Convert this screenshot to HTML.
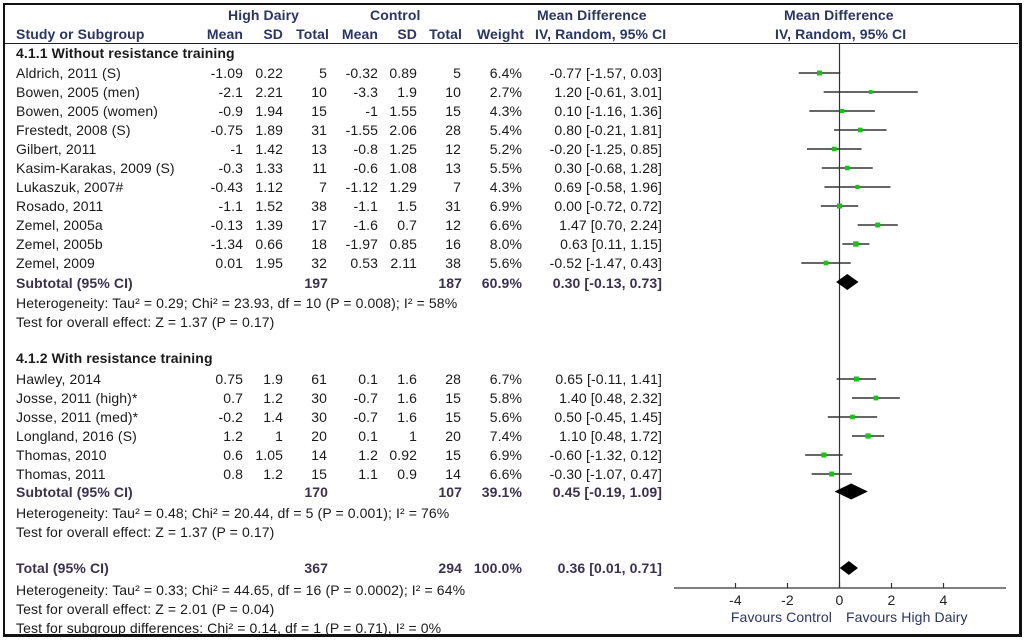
<!DOCTYPE html>
<html><head><meta charset="utf-8">
<style>
html,body{margin:0;padding:0;background:#fff}
#wrap{position:relative;width:1024px;height:640px;overflow:hidden;font-family:"Liberation Sans",Arial,sans-serif;font-size:14px;letter-spacing:0.1px;color:#1a1a1a}
#frame{position:absolute;left:3px;top:3px;width:1014px;height:629px;border:2px solid #111;border-right-width:3px;border-bottom-width:3px}
.t{position:absolute;white-space:nowrap;line-height:16px}
.r{text-align:right}
.h{font-weight:bold;color:#2a3466}
.b{font-weight:bold}
.s{font-weight:bold;color:#3a3050}
svg{position:absolute;left:0;top:0}
</style></head>
<body>
<div id="wrap">
<div id="frame"></div>
<svg id="plot" width="1024" height="640"></svg>
</div>
<script>
// study data
const groupA = ["Aldrich, 2011 (S)","Bowen, 2005 (men)","Bowen, 2005 (women)","Frestedt, 2008 (S)","Gilbert, 2011","Kasim-Karakas, 2009 (S)","Lukaszuk, 2007#","Rosado, 2011","Zemel, 2005a","Zemel, 2005b","Zemel, 2009"];
const groupB = ["Hawley, 2014","Josse, 2011 (high)*","Josse, 2011 (med)*","Longland, 2016 (S)","Thomas, 2010","Thomas, 2011"];
const hdMean = ["-1.09","-2.1","-0.9","-0.75","-1","-0.3","-0.43","-1.1","-0.13","-1.34","0.01","0.75","0.7","-0.2","1.2","0.6","0.8"];
const hdSD = ["0.22","2.21","1.94","1.89","1.42","1.33","1.12","1.52","1.39","0.66","1.95","1.9","1.2","1.4","1","1.05","1.2"];
const hdN = [5,10,15,31,13,11,7,38,17,18,32,61,30,30,20,14,15];
const cMean = ["-0.32","-3.3","-1","-1.55","-0.8","-0.6","-1.12","-1.1","-1.6","-1.97","0.53","0.1","-0.7","-0.7","0.1","1.2","1.1"];
const cSD = ["0.89","1.9","1.55","2.06","1.25","1.08","1.29","1.5","0.7","0.85","2.11","1.6","1.6","1.6","1","0.92","0.9"];
const cN = [5,10,15,28,12,13,7,31,12,16,38,28,15,15,20,15,14];
const weight = [6.4,2.7,4.3,5.4,5.2,5.5,4.3,6.9,6.6,8.0,5.6,6.7,5.8,5.6,7.4,6.9,6.6];
const md = [-0.77,1.20,0.10,0.80,-0.20,0.30,0.69,0.00,1.47,0.63,-0.52,0.65,1.40,0.50,1.10,-0.60,-0.30];
const lo = [-1.57,-0.61,-1.16,-0.21,-1.25,-0.68,-0.58,-0.72,0.70,0.11,-1.47,-0.11,0.48,-0.45,0.48,-1.32,-1.07];
const hi = [0.03,3.01,1.36,1.81,0.85,1.28,1.96,0.72,2.24,1.15,0.43,1.41,2.32,1.45,1.72,0.12,0.47];
const pooledMD = [0.30,0.45,0.36];
const pooledLo = [-0.13,-0.19,0.01];
const pooledHi = [0.73,1.09,0.71];
const ticks = [-4,-2,0,2,4];

const wrap=document.getElementById('wrap');
const svg=document.getElementById('plot');
const NS='http://www.w3.org/2000/svg';
const X0=839.5, SC=26;
function xs(v){return X0+v*SC;}
function txt(x,y,s,cls,right,name){
  const d=document.createElement('div');
  d.className='t '+(cls||'')+(right?' r':'');
  d.textContent=s;
  if(right){d.style.right=(1024-x)+'px';}else{d.style.left=x+'px';}
  d.style.top=(y-8)+'px';
  
  
  wrap.appendChild(d);
}
function el(tag,attrs,name){
  const e=document.createElementNS(NS,tag);
  for(const k in attrs)e.setAttribute(k,attrs[k]);
  
  
  svg.appendChild(e);return e;
}
// headers
txt(228,15,'High Dairy','h',false,'high-dairy-header');
txt(370,15,'Control','h',false,'control-header');
txt(537,15,'Mean Difference','h',false,'md-header');
txt(784,15,'Mean Difference','h',false,'plot-header');
txt(16,34,'Study or Subgroup','h',false,'study-header');
[[243,'Mean'],[283,'SD'],[329,'Total'],[378,'Mean'],[417,'SD'],[462,'Total'],[524,'Weight']].forEach(p=>txt(p[0],34,p[1],'h',true,'column-header'));
txt(535,34,'IV, Random, 95% CI','h',false,'md-subheader');
txt(775,34,'IV, Random, 95% CI','h',false,'plot-subheader');
el('line',{x1:5,y1:43.5,x2:1018,y2:43.5,stroke:'#222','stroke-width':1},'header-rule');
// zero line and axis
el('line',{x1:X0,y1:44,x2:X0,y2:588,stroke:'#333','stroke-width':1.2},'zero-line');
el('line',{x1:674,y1:588,x2:1006,y2:588,stroke:'#333','stroke-width':1.2},'x-axis');
ticks.forEach(t=>{
  el('line',{x1:xs(t),y1:583,x2:xs(t),y2:588,stroke:'#333','stroke-width':1.2},'x-tick');
  const tt=el('text',{x:xs(t),y:605,'text-anchor':'middle','font-size':'14','font-family':'Liberation Sans, Arial, sans-serif',fill:'#222'},'x-tick-label');
  tt.textContent=t;
});
const f1=el('text',{x:832,y:622,'text-anchor':'end','font-size':'14','font-family':'Liberation Sans, Arial, sans-serif',fill:'#2a3466'},'favours-control-label');f1.textContent='Favours Control';
const f2=el('text',{x:846,y:622,'font-size':'14','font-family':'Liberation Sans, Arial, sans-serif',fill:'#2a3466'},'favours-high-dairy-label');f2.textContent='Favours High Dairy';

function studyRow(i,name,y){
  txt(16,y,name,'',false,'study-name');
  txt(243,y,hdMean[i],'',true,'hd-mean');
  txt(283,y,hdSD[i],'',true,'hd-sd');
  txt(327,y,String(hdN[i]),'',true,'hd-total');
  txt(378,y,cMean[i],'',true,'control-mean');
  txt(417,y,cSD[i],'',true,'control-sd');
  txt(461,y,String(cN[i]),'',true,'control-total');
  txt(522,y,weight[i].toFixed(1)+'%','',true,'weight');
  txt(662,y,md[i].toFixed(2)+' ['+lo[i].toFixed(2)+', '+hi[i].toFixed(2)+']','',true,'md-ci');
  el('line',{x1:xs(lo[i]),y1:y,x2:xs(hi[i]),y2:y,stroke:'#333','stroke-width':1.4},'ci-line');
  const s=3+weight[i]*0.3;
  el('rect',{x:xs(md[i])-s/2,y:y-s/2,width:s,height:s,fill:'#10c810'},'study-square');
}
function diamond(k,y,h){
  el('polygon',{points:`${xs(pooledLo[k])},${y} ${xs(pooledMD[k])},${y-h} ${xs(pooledHi[k])},${y} ${xs(pooledMD[k])},${y+h}`,fill:'#000'},'pooled-diamond');
}
function ci(k){return pooledMD[k].toFixed(2)+' ['+pooledLo[k].toFixed(2)+', '+pooledHi[k].toFixed(2)+']';}

txt(16,53,'4.1.1 Without resistance training','b',false,'subgroup-1-title');
groupA.forEach((n,j)=>studyRow(j,n,73+j*19));
let y=283;
txt(16,y,'Subtotal (95% CI)','s',false,'subtotal-1-label');
txt(328,y,'197','s',true,'subtotal-1-hd');txt(462,y,'187','s',true,'subtotal-1-control');
txt(522,y,'60.9%','s',true,'subtotal-1-weight');txt(662,y,ci(0),'s',true,'subtotal-1-ci');
diamond(0,282,8);
txt(16,303,'Heterogeneity: Tau² = 0.29; Chi² = 23.93, df = 10 (P = 0.008); I² = 58%','',false,'heterogeneity-1');
txt(16,322,'Test for overall effect: Z = 1.37 (P = 0.17)','',false,'overall-effect-1');

txt(16,358,'4.1.2 With resistance training','b',false,'subgroup-2-title');
groupB.forEach((n,j)=>studyRow(groupA.length+j,n,379+j*19));
y=492;
txt(16,y,'Subtotal (95% CI)','s',false,'subtotal-2-label');
txt(328,y,'170','s',true,'subtotal-2-hd');txt(462,y,'107','s',true,'subtotal-2-control');
txt(522,y,'39.1%','s',true,'subtotal-2-weight');txt(662,y,ci(1),'s',true,'subtotal-2-ci');
diamond(1,491.5,8);
txt(16,513,'Heterogeneity: Tau² = 0.48; Chi² = 20.44, df = 5 (P = 0.001); I² = 76%','',false,'heterogeneity-2');
txt(16,532,'Test for overall effect: Z = 1.37 (P = 0.17)','',false,'overall-effect-2');

y=568;
txt(16,y,'Total (95% CI)','s',false,'total-label');
txt(328,y,'367','s',true,'total-hd');txt(462,y,'294','s',true,'total-control');
txt(522,y,'100.0%','s',true,'total-weight');txt(662,y,ci(2),'s',true,'total-ci');
diamond(2,568,7);
txt(16,590,'Heterogeneity: Tau² = 0.33; Chi² = 44.65, df = 16 (P = 0.0002); I² = 64%','',false,'heterogeneity-total');
txt(16,609,'Test for overall effect: Z = 2.01 (P = 0.04)','',false,'overall-effect-total');
txt(16,628,'Test for subgroup differences: Chi² = 0.14, df = 1 (P = 0.71), I² = 0%','',false,'subgroup-differences');
</script>
</body></html>
